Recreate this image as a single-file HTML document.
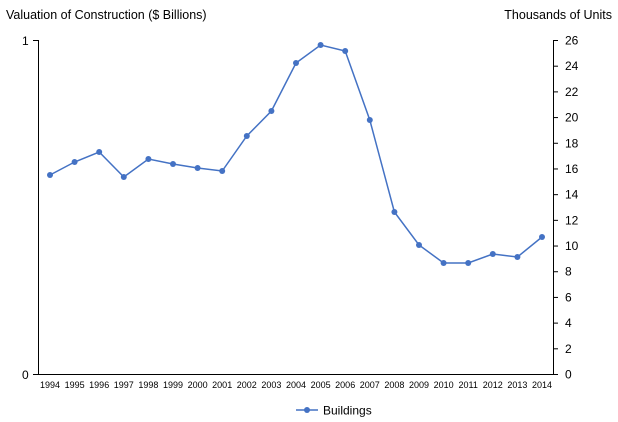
<!DOCTYPE html>
<html><head><style>body{margin:0;background:#fff}svg{display:block}text{font-family:"Liberation Sans",sans-serif;fill:#000}</style></head><body>
<svg width="618" height="422" xmlns="http://www.w3.org/2000/svg">
<text x="6" y="19" font-size="12.5">Valuation of Construction ($ Billions)</text>
<text x="612" y="19" font-size="12.5" text-anchor="end">Thousands of Units</text>
<line x1="38.5" y1="40" x2="38.5" y2="374" stroke="#000"/>
<line x1="33" y1="40.5" x2="38" y2="40.5" stroke="#000"/>
<line x1="33" y1="374.5" x2="553" y2="374.5" stroke="#000"/>
<line x1="553.5" y1="40" x2="553.5" y2="374" stroke="#000"/>
<text x="22" y="45" font-size="12">1</text>
<text x="22" y="379" font-size="12">0</text>
<g font-size="12" id="r"></g>
<g font-size="9" id="xl"></g>
<polyline id="ln" fill="none" stroke="#4472c4" stroke-width="1.5"/>
<g id="pts" fill="#4472c4"></g>
<line x1="296" y1="410" x2="318" y2="410" stroke="#4472c4" stroke-width="1.5"/>
<circle cx="307" cy="410" r="3" fill="#4472c4"/>
<text x="323" y="414.5" font-size="12">Buildings</text>
<script>
var ns="http://www.w3.org/2000/svg",s=document.querySelector('svg');
function el(t,a,p,tx){var e=document.createElementNS(ns,t);for(var k in a)e.setAttribute(k,a[k]);if(tx!=null)e.textContent=tx;(p||s).appendChild(e);return e;}
var r=document.getElementById('r');
for(var i=0;i<=26;i+=2){var y=374-i*334/26;el('line',{x1:553,x2:558,y1:y+.5,y2:y+.5,stroke:'#000'});el('text',{x:565,y:y+4.5},r,i);}
var xl=document.getElementById('xl'),ys=[175,162,152,177,159,164,168,171,136,111,63,45,51,120,212,245,263,263,254,257,237],pts=[];
for(var j=0;j<21;j++){var x=50+j*24.6;el('text',{x:x,y:388,'text-anchor':'middle'},xl,1994+j);pts.push(x+','+ys[j]);el('circle',{cx:x,cy:ys[j],r:3},document.getElementById('pts'));}
document.getElementById('ln').setAttribute('points',pts.join(' '));
</script>
</svg></body></html>
